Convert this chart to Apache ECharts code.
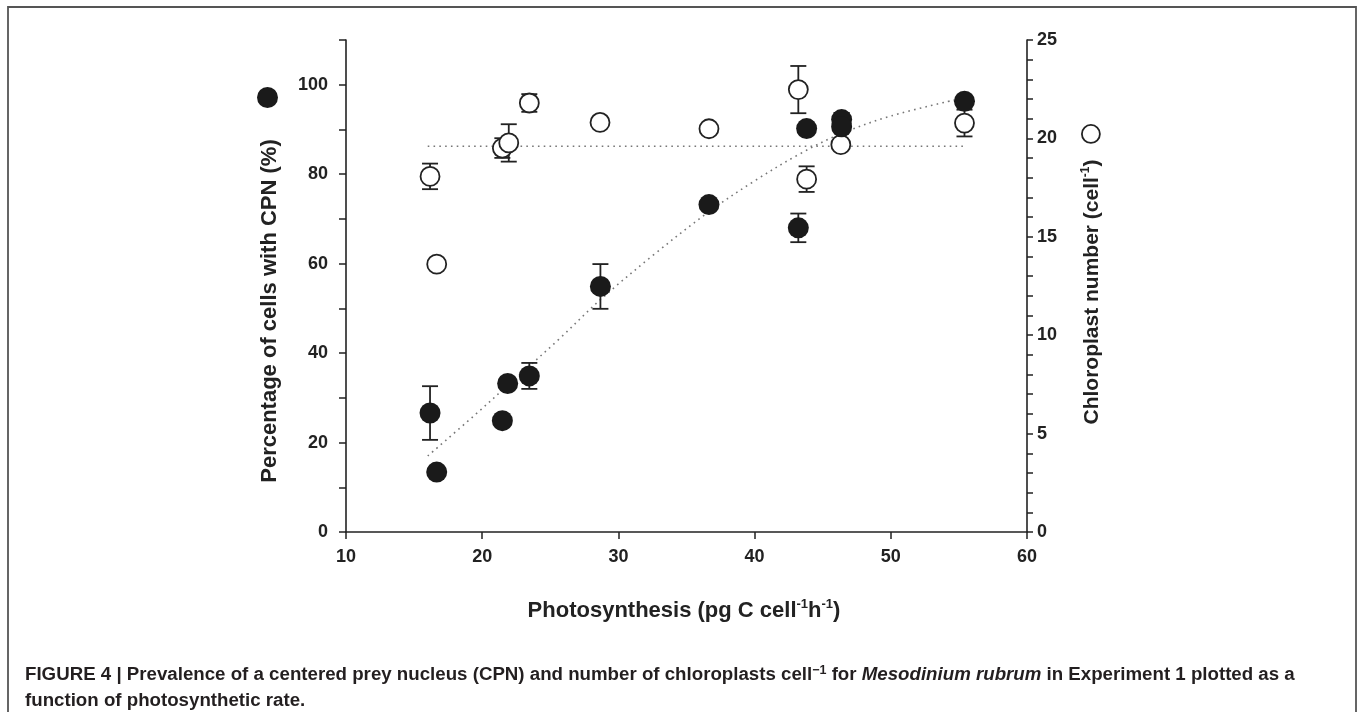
<!DOCTYPE html>
<html>
<head>
<meta charset="utf-8">
<script src="https://cdn.jsdelivr.net/npm/echarts@6/dist/echarts.min.js"></script>
<style>
  html, body { margin: 0; padding: 0; background: #fff; }
  #chart { width: 1360px; height: 712px; }
</style>
</head>
<body>
<div id="chart"></div>
<script>
// Photosynthetic rate (pg C cell-1 h-1) for each sample
const cpnX   = [16.17, 16.66, 21.48, 21.87, 23.46, 28.68, 36.65, 43.21, 43.82, 46.39, 46.39, 55.41];
// Percentage of cells with a centered prey nucleus, and its error
const cpnY   = [26.6, 13.4, 24.9, 33.2, 34.9, 54.9, 73.2, 68.0, 90.2, 92.2, 90.6, 96.3];
const cpnErr = [6.0, 0, 0, 0, 2.9, 5.0, 0, 3.2, 0, 0, 3.1, 0];

// Chloroplast number per cell, and its error
const chlX   = [16.17, 16.66, 21.48, 21.95, 23.46, 28.65, 36.65, 43.21, 43.82, 46.33, 55.41];
const chlY   = [18.07, 13.61, 19.51, 19.77, 21.8, 20.81, 20.49, 22.48, 17.93, 19.68, 20.78];
const chlErr = [0.65, 0, 0.5, 0.95, 0.45, 0, 0, 1.2, 0.65, 0, 0.68];

// Fitted curve through the CPN data (read along the dotted trend)
const cpnFitX = [16.0, 19.4, 22.5, 25.6, 28.7, 32.6, 36.6, 40.0, 43.3, 46.3, 50.0, 54.7];
const cpnFitY = [17.0, 26.0, 34.5, 43.0, 52.0, 62.0, 71.5, 78.5, 84.5, 89.0, 93.0, 96.6];

// Mean chloroplast number (flat dotted line)
const chlFitX = [16.0, 55.5];
const chlFitY = [19.6, 19.6];

// Axis ticks
const xTicks = [10, 20, 30, 40, 50, 60];
const leftLabels = [0, 20, 40, 60, 80, 100];
const rightLabels = [0, 5, 10, 15, 20, 25];

const INK = '#222';
const FONT = '"Liberation Sans", Arial, sans-serif';

const zip = (xs, ys, es) => xs.map((x, i) => es ? [x, ys[i], es[i]] : [x, ys[i]]);

function errorBars(params, api) {
  const x = api.value(0), y = api.value(1), e = api.value(2);
  if (!e) return null;
  const top = api.coord([x, y + e]);
  const bot = api.coord([x, y - e]);
  const hw = 8;
  const st = { stroke: INK, lineWidth: 1.8 };
  return {
    type: 'group',
    children: [
      { type: 'line', shape: { x1: top[0], y1: top[1], x2: bot[0], y2: bot[1] }, style: st },
      { type: 'line', shape: { x1: top[0] - hw, y1: top[1], x2: top[0] + hw, y2: top[1] }, style: st },
      { type: 'line', shape: { x1: bot[0] - hw, y1: bot[1], x2: bot[0] + hw, y2: bot[1] }, style: st }
    ]
  };
}

const axisCommon = {
  axisLine: { show: true, lineStyle: { color: INK, width: 1.6 } },
  axisTick: { show: true, inside: false, length: 7, lineStyle: { color: INK, width: 1.5 } },
  splitLine: { show: false },
  axisLabel: { color: INK, fontSize: 18, fontWeight: 'bold', fontFamily: FONT }
};

const chart = echarts.init(document.getElementById('chart'), null, { renderer: 'canvas' });

const option = {
  backgroundColor: '#fff',
  animation: false,
  grid: { left: 346, right: 333, top: 40, bottom: 180, containLabel: false },
  xAxis: {
    type: 'value', min: xTicks[0], max: xTicks[xTicks.length - 1], interval: 10,
    ...axisCommon,
    axisLabel: { ...axisCommon.axisLabel, margin: 16 }
  },
  yAxis: [
    {
      type: 'value', min: 0, max: 110, interval: 10, position: 'left',
      ...axisCommon,
      axisLabel: {
        ...axisCommon.axisLabel, margin: 18,
        formatter: v => leftLabels.includes(v) ? String(v) : ''
      }
    },
    {
      type: 'value', min: 0, max: 25, interval: 1, position: 'right',
      ...axisCommon,
      axisTick: { ...axisCommon.axisTick, length: 6 },
      axisLabel: {
        ...axisCommon.axisLabel, margin: 10,
        formatter: v => rightLabels.includes(v) ? String(v) : ''
      }
    }
  ],
  legend: [
    {
      data: [{ name: 'CPN', itemStyle: { color: '#1a1a1a', borderWidth: 0 } }],
      left: 257, top: 87, padding: 0, itemWidth: 21, itemHeight: 21, icon: 'circle',
      formatter: () => '', selectedMode: false, textStyle: { fontSize: 1 }
    },
    {
      data: [{ name: 'Chloroplasts', itemStyle: { color: '#fff', borderColor: INK, borderWidth: 1.8 } }],
      left: 1081, top: 124, padding: 0, itemWidth: 18, itemHeight: 18, icon: 'circle',
      formatter: () => '', selectedMode: false, textStyle: { fontSize: 1 }
    }
  ],
  series: [
    {
      name: 'CPN fit', type: 'line', yAxisIndex: 0, smooth: 0.35, symbol: 'none', z: 1,
      data: zip(cpnFitX, cpnFitY),
      lineStyle: { color: '#777', width: 1.6, type: [1.6, 4.2] }
    },
    {
      name: 'Chloroplast mean', type: 'line', yAxisIndex: 1, symbol: 'none', z: 1,
      data: zip(chlFitX, chlFitY),
      lineStyle: { color: '#777', width: 1.6, type: [1.6, 4.2] }
    },
    {
      name: 'CPN error', type: 'custom', yAxisIndex: 0, z: 2,
      renderItem: errorBars, data: zip(cpnX, cpnY, cpnErr), silent: true
    },
    {
      name: 'Chloroplast error', type: 'custom', yAxisIndex: 1, z: 2,
      renderItem: errorBars, data: zip(chlX, chlY, chlErr), silent: true
    },
    {
      name: 'Chloroplasts', type: 'scatter', yAxisIndex: 1, z: 3, symbol: 'circle', symbolSize: 19,
      data: zip(chlX, chlY),
      itemStyle: { color: '#fff', borderColor: INK, borderWidth: 1.8, opacity: 1 }
    },
    {
      name: 'CPN', type: 'scatter', yAxisIndex: 0, z: 4, symbol: 'circle', symbolSize: 21,
      data: zip(cpnX, cpnY),
      itemStyle: { color: '#1a1a1a', opacity: 1 }
    }
  ],
  graphic: [
    // figure frame
    {
      type: 'rect', silent: true,
      shape: { x: 8, y: 7, width: 1348, height: 730 },
      style: { fill: 'none', stroke: '#555', lineWidth: 1.8 }
    },
    // left axis title
    {
      type: 'text', x: 270, y: 311, rotation: Math.PI / 2,
      style: {
        text: 'Percentage of cells with CPN (%)',
        fill: INK, font: 'bold 22px ' + FONT, align: 'center', verticalAlign: 'middle'
      }
    },
    // right axis title
    {
      type: 'text', x: 1092, y: 292, rotation: Math.PI / 2,
      style: {
        text: '{b|Chloroplast number (cell}{s|-1}{b|)}',
        align: 'center', verticalAlign: 'middle',
        rich: {
          b: { fill: INK, fontSize: 21, fontWeight: 'bold', fontFamily: FONT, lineHeight: 24 },
          s: { fill: INK, fontSize: 12, fontWeight: 'bold', fontFamily: FONT, lineHeight: 24, verticalAlign: 'top' }
        }
      }
    },
    // x axis title
    {
      type: 'text', x: 684, y: 611,
      style: {
        text: '{b|Photosynthesis (pg C cell}{s|-1}{b|h}{s|-1}{b|)}',
        align: 'center', verticalAlign: 'middle',
        rich: {
          b: { fill: INK, fontSize: 22, fontWeight: 'bold', fontFamily: FONT, lineHeight: 26 },
          s: { fill: INK, fontSize: 13, fontWeight: 'bold', fontFamily: FONT, lineHeight: 26, verticalAlign: 'top' }
        }
      }
    },
    // caption
    {
      type: 'text', x: 25, y: 675,
      style: {
        text: '{b|FIGURE 4 | Prevalence of a centered prey nucleus (CPN) and number of chloroplasts cell}{s|\u22121}{b| for }{i|Mesodinium rubrum}{b| in Experiment 1 plotted as a}',
        align: 'left', verticalAlign: 'middle',
        rich: {
          b: { fill: '#231f20', fontSize: 18.7, fontWeight: 'bold', fontFamily: FONT, lineHeight: 22 },
          i: { fill: '#231f20', fontSize: 18.7, fontWeight: 'bold', fontStyle: 'italic', fontFamily: FONT, lineHeight: 22 },
          s: { fill: '#231f20', fontSize: 12.5, fontWeight: 'bold', fontFamily: FONT, lineHeight: 22, verticalAlign: 'top' }
        }
      }
    },
    {
      type: 'text', x: 25, y: 701,
      style: {
        text: 'function of photosynthetic rate.',
        fill: '#231f20', font: 'bold 18.7px ' + FONT, align: 'left', verticalAlign: 'middle'
      }
    }
  ]
};

chart.setOption(option);
</script>
</body>
</html>
